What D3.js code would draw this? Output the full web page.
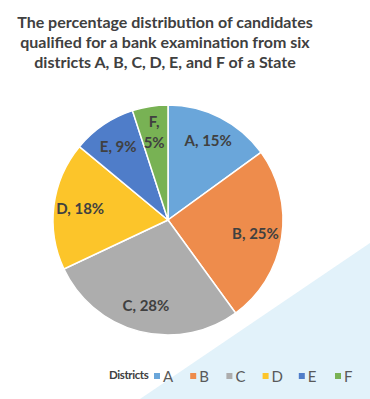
<!DOCTYPE html>
<html>
<head>
<meta charset="utf-8">
<script src="https://cdn.jsdelivr.net/npm/d3@7"></script>
<style>
    html, body { margin: 0; padding: 0; background: #fff; }
    svg { display: block; }
</style>
</head>
<body>
<div id="chart"></div>
<script>
"use strict"

// data
const districts = ["A", "B", "C", "D", "E", "F"];
const shares = [15, 25, 28, 18, 9, 5];
const colors = ["#6aa6da", "#ee8c4c", "#adadad", "#fcc52a", "#4f7dc9", "#78b254"];
const titleLines = [
    "The percentage distribution of candidates",
    "qualified for a bank examination from six",
    "districts A, B, C, D, E, and F of a State"
];
const legendTitle = "Districts";

const width = 370;
const height = 399;
const cx = 168;
const cy = 220;
const radius = 115;
const font = "Lato, 'Open Sans', sans-serif";

const svg = d3.select("#chart").append("svg")
    .attr("width", width)
    .attr("height", height);

// pale blue corner in the background
svg.append("path")
    .attr("d", d3.line()([[140, height], [width, 243], [width, height]]))
    .attr("fill", "#e2f2fa");

// title
svg.append("text")
    .attr("x", 165)
    .attr("y", 28)
    .attr("text-anchor", "middle")
    .style("font-family", font)
    .style("font-weight", "bold")
    .style("font-size", "16px")
    .attr("fill", "#404040")
    .selectAll("tspan")
    .data(titleLines)
    .join("tspan")
    .attr("x", 165)
    .attr("dy", (d, i) => i === 0 ? 0 : 20)
    .text(d => d);

//-----------------------------PIE------------------------------//
const rows = districts.map((d, i) => ({ name: d, value: shares[i], color: colors[i] }));
const pie = d3.pie().sort(null).value(d => d.value);
const arcs = pie(rows);
const arc = d3.arc().innerRadius(0).outerRadius(radius);
const labelArc = d3.arc().innerRadius(radius * 0.77).outerRadius(radius * 0.77);

const g = svg.append("g").attr("transform", `translate(${cx},${cy})`);

g.selectAll("path.slice")
    .data(arcs)
    .join("path")
    .attr("class", "slice")
    .attr("d", arc)
    .attr("fill", d => d.data.color)
    .attr("stroke", "#fff")
    .attr("stroke-width", 1.5);

const labels = g.selectAll("text.lbl")
    .data(arcs)
    .join("text")
    .attr("class", "lbl")
    .attr("transform", d => `translate(${labelArc.centroid(d)})`)
    .attr("text-anchor", "middle")
    .style("font-family", font)
    .style("font-weight", "bold")
    .style("font-size", "15px")
    .attr("fill", "#404040");

// the narrow F slice gets its label on two lines
labels.each(function (d) {
    const el = d3.select(this);
    const parts = d.data.value < 6
        ? [d.data.name + ",", d.data.value + "%"]
        : [d.data.name + ", " + d.data.value + "%"];
    el.selectAll("tspan")
        .data(parts)
        .join("tspan")
        .attr("x", 0)
        .attr("y", (p, i) => (i - (parts.length - 1) / 2) * 21 + 5)
        .text(p => p);
});

//----------------------------LEGEND----------------------------//
const legendY = 376;
svg.append("text")
    .attr("x", 109)
    .attr("y", legendY + 3)
    .style("font-family", font)
    .style("font-weight", "bold")
    .style("font-size", "11.5px")
    .style("letter-spacing", "-0.4px")
    .attr("fill", "#404040")
    .text(legendTitle);

const legendX = d3.scalePoint().domain(districts).range([154, 335]);

const items = svg.selectAll("g.item")
    .data(rows)
    .join("g")
    .attr("class", "item")
    .attr("transform", d => `translate(${legendX(d.name)},${legendY})`);

items.append("rect")
    .attr("x", 0)
    .attr("y", -3)
    .attr("width", 6)
    .attr("height", 6)
    .attr("fill", d => d.color);

items.append("text")
    .attr("x", 9)
    .attr("y", 5.5)
    .style("font-family", font)
    .style("font-size", "15px")
    .attr("fill", "#595959")
    .text(d => d.name);
</script>
</body>
</html>
